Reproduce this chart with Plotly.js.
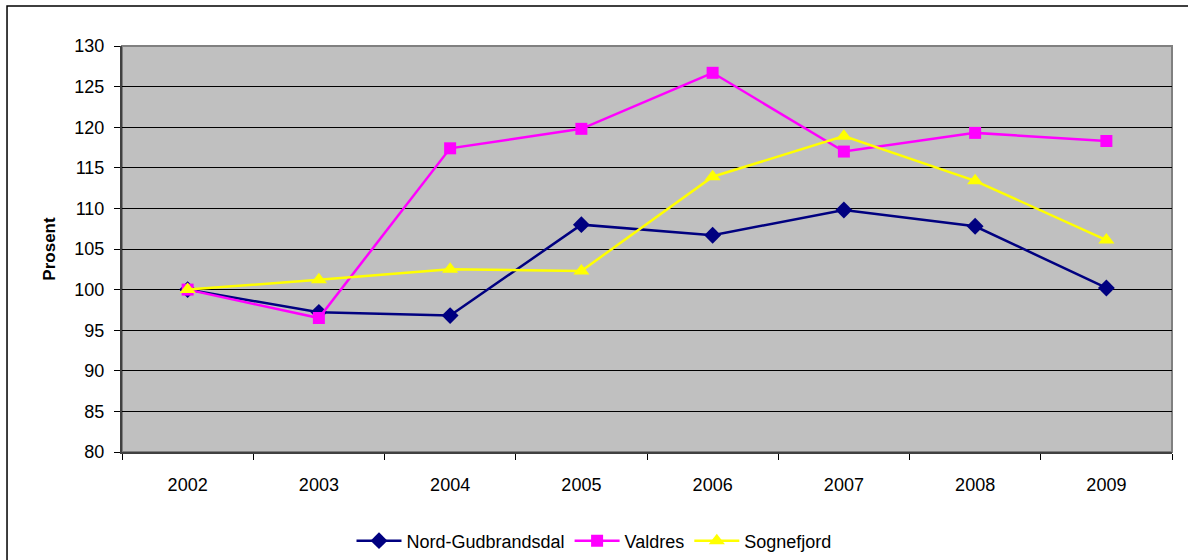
<!DOCTYPE html>
<html><head><meta charset="utf-8">
<script src="https://cdn.plot.ly/plotly-3.0.1.min.js"></script>
<style>html,body{margin:0;padding:0;background:#fff;}#chart{width:1188px;height:560px;}</style>
</head><body><div id="chart"></div>
<script>
const years = ['2002','2003','2004','2005','2006','2007','2008','2009'];
const nordGudbrandsdal = [100, 97.2, 96.8, 108.0, 106.7, 109.8, 107.8, 100.2];
const valdres = [100, 96.5, 117.4, 119.8, 126.7, 117.0, 119.3, 118.3];
const sognefjord = [100, 101.2, 102.5, 102.3, 113.9, 118.9, 113.4, 106.1];
const yTicks = [80, 85, 90, 95, 100, 105, 110, 115, 120, 125, 130];

const font = {family: 'Liberation Sans, Arial, sans-serif', size: 18, color: '#000'};
const traces = [
  {x: years, y: nordGudbrandsdal, name: 'Nord-Gudbrandsdal', type: 'scatter', mode: 'lines+markers',
   line: {color: '#000080', width: 2.5}, marker: {symbol: 'diamond', size: 13, color: '#000080'}},
  {x: years, y: valdres, name: 'Valdres', type: 'scatter', mode: 'lines+markers',
   line: {color: '#FF00FF', width: 2.5}, marker: {symbol: 'square', size: 12, color: '#FF00FF'}},
  {x: years, y: sognefjord, name: 'Sognefjord', type: 'scatter', mode: 'lines+markers',
   line: {color: '#FFFF00', width: 2.5}, marker: {symbol: 'triangle-up', size: 14, color: '#FFFF00'}}
];
const layout = {
  width: 1188, height: 560,
  margin: {l: 122, r: 16, t: 46, b: 108, autoexpand: false},
  paper_bgcolor: '#fff', plot_bgcolor: '#C0C0C0',
  font: font,
  showlegend: true,
  legend: {orientation: 'h', x: 0.5, xref: 'container', xanchor: 'center', y: 0.034, yref: 'container', yanchor: 'middle',
           font: font, itemwidth: 45, tracegroupgap: 0, bgcolor: 'rgba(0,0,0,0)'},
  xaxis: {type: 'category', range: [-0.5, 7.5], tickson: 'boundaries', ticks: 'outside', ticklen: 6,
          tickcolor: '#000', showgrid: false, showline: true, linecolor: '#404040', linewidth: 2,
          zeroline: false, tickfont: font, ticklabelstandoff: 15, automargin: false, fixedrange: true},
  yaxis: {range: [80, 130], tickvals: yTicks, ticktext: yTicks.map(String), ticks: 'outside', ticklen: 6,
          tickcolor: '#000', showgrid: true, gridcolor: '#000', gridwidth: 1, showline: true,
          linecolor: '#404040', linewidth: 2, zeroline: false, tickfont: font, ticklabelstandoff: 6,
          title: {text: 'Prosent', font: {family: 'Liberation Sans, Arial, sans-serif', size: 17, color: '#000', weight: 'bold'}, standoff: 14},
          automargin: false, fixedrange: true},
  shapes: [
    {type: 'rect', xref: 'paper', yref: 'paper', x0: 0, x1: 1, y0: 0, y1: 1,
     line: {color: '#808080', width: 2}, layer: 'below'},
    {type: 'rect', xref: 'paper', yref: 'paper', x0: -0.1095, x1: 1.1, y0: -0.4, y1: 1.0985,
     line: {color: '#000', width: 1.5}, layer: 'above'}
  ]
};
Plotly.newPlot('chart', traces, layout, {displayModeBar: false, staticPlot: true});
</script></body></html>
